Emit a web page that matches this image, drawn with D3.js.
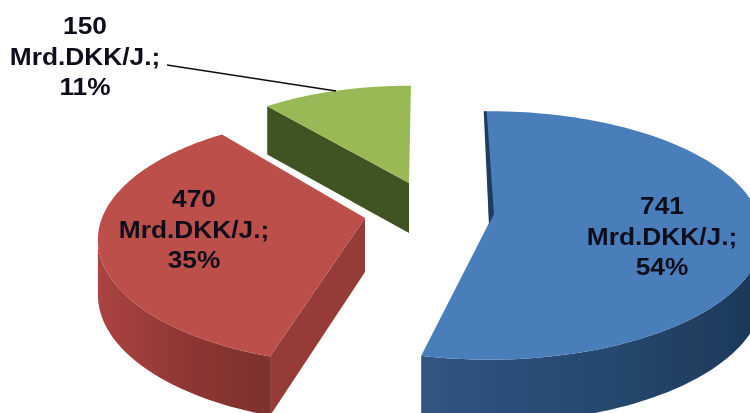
<!DOCTYPE html>
<html><head><meta charset="utf-8">
<script src="https://cdn.jsdelivr.net/npm/d3@7/dist/d3.min.js"></script>
<style>html,body{margin:0;padding:0;background:#fff;overflow:hidden}svg{display:block}</style>
</head><body><svg id="c" width="750" height="413"></svg>
<script>
const values = [741, 470, 150];
const percents = [54, 35, 11];
const unit = "Mrd.DKK/J.;";
const faceColors = ["#4a7ebb", "#bd4f4c", "#98b954"];
const wallStops = [
  ["#315582", "#264a70", "#1d3858"],
  ["#aa4441", "#8f3735", "#7e302e"],
  ["#435a22", "#405520", "#3c501e"]
];
const cutColors = ["#1f3c5e", "#953a38", "#3f5320"];

// Projection of each (exploded) slice: apex, radii, perspective, thickness, turn and end trim in degrees
const W = 750, H = 413;
const geom = [
  {cx:489, cy:223, rx:272, ry:123, p:0.10, depth:60, turn:0, trim:2},
  {cx:365, cy:218, rx:263, ry:121, p:0.175, depth:54, turn:2.5, trim:0},
  {cx:409, cy:183, rx:240, ry:106, p:0.09, depth:50, turn:1.5, trim:0}
];
const labelPos = [[662,206],[194,199],[85,26]];
const lineGap = 30.5;
const leader = [[167,65],[336,91]];
const fontSize = 23.5, stretch = 1.12;

const pie = d3.pie().sort(null).startAngle(-Math.PI/180).endAngle(2*Math.PI-Math.PI/180);
const arcs = pie(values);
const svg = d3.select("#c");
const defs = svg.append("defs");
defs.append("filter").attr("id","soft").append("feGaussianBlur").attr("stdDeviation",0.55);
const root = svg.append("g").attr("filter","url(#soft)");
const line = d3.line();

function project(g, a, r, dy){
  const u = r*Math.sin(a), v = r*Math.cos(a), w = 1 + g.p*v;
  return [g.cx + g.rx*u/w, g.cy - g.ry*v/w + (dy||0)/Math.sqrt(w)];
}
function rim(g, a0, a1, dy){
  const n = 120;
  return d3.range(n+1).map(i => project(g, a0 + (a1-a0)*i/n, 1, dy));
}

// green first (back), then red, then blue
[2,1,0].forEach(i => {
  const g = geom[i], t = g.turn*Math.PI/180;
  const a0 = arcs[i].startAngle + t, a1 = arcs[i].endAngle + t - g.trim*Math.PI/180;
  const top = rim(g, a0, a1, 0), low = rim(g, a0, a1, g.depth);
  const apex = project(g, 0, 0, 0), apexLow = project(g, 0, 0, g.depth);
  const grad = defs.append("linearGradient").attr("id","w"+i)
    .attr("gradientUnits","userSpaceOnUse")
    .attr("x1", i===0 ? low[low.length-1][0] : d3.min(low,d=>d[0]))
    .attr("x2", d3.max(low,d=>d[0])).attr("y1",0).attr("y2",0);
  wallStops[i].forEach((c,k)=>grad.append("stop").attr("offset",k/2).attr("stop-color",c));
  // outer wall only between the silhouette point and the front corner
  if(i===0){
    const k = d3.maxIndex(top, d=>d[0]);
    const a = top.slice(k), b = low.slice(k).reverse();
    root.append("path").attr("d", line(a.concat(b))+"Z").attr("fill","url(#w0)");
  } else if(i===1){
    const k = d3.minIndex(top, d=>d[0]);
    const a = top.slice(0,k+1), b = low.slice(0,k+1).reverse();
    root.append("path").attr("d", line(a.concat(b))+"Z").attr("fill","url(#w1)");
  }
  // cut wall facing the viewer
  if(i>0){
    root.append("path").attr("d", line([top[0], apex, apexLow, low[0]])+"Z").attr("fill",cutColors[i]);
  }
  // top face
  root.append("path").attr("d", line([apex].concat(top))+"Z").attr("fill",faceColors[i]);
  if(i===0){
    // narrow sliver of the start wall beside the blue face
    root.append("path").attr("d", line([[top[0][0]-1,top[0][1]],[apex[0],apex[1]+1],[apex[0]+5,apex[1]-9],[top[0][0]+2,top[0][1]]])+"Z").attr("fill",cutColors[i]);
  }
});

root.append("line").attr("x1",leader[0][0]).attr("y1",leader[0][1]).attr("x2",leader[1][0]).attr("y2",leader[1][1])
  .attr("stroke","#111").attr("stroke-width",1.6);

values.forEach((v,i)=>{
  const t = root.append("text").attr("text-anchor","middle")
    .attr("transform",`translate(${labelPos[i][0]},0) scale(${stretch},1)`)
    .attr("font-family","'Liberation Sans',Arial,sans-serif").attr("font-weight","700")
    .attr("font-size",fontSize).attr("fill","#10101c").attr("dominant-baseline","central");
  [String(v), unit, percents[i]+"%"].forEach((s,k)=>{
    t.append("tspan").attr("x",0).attr("y",labelPos[i][1]+k*lineGap).text(s);
  });
});
</script></body></html>
